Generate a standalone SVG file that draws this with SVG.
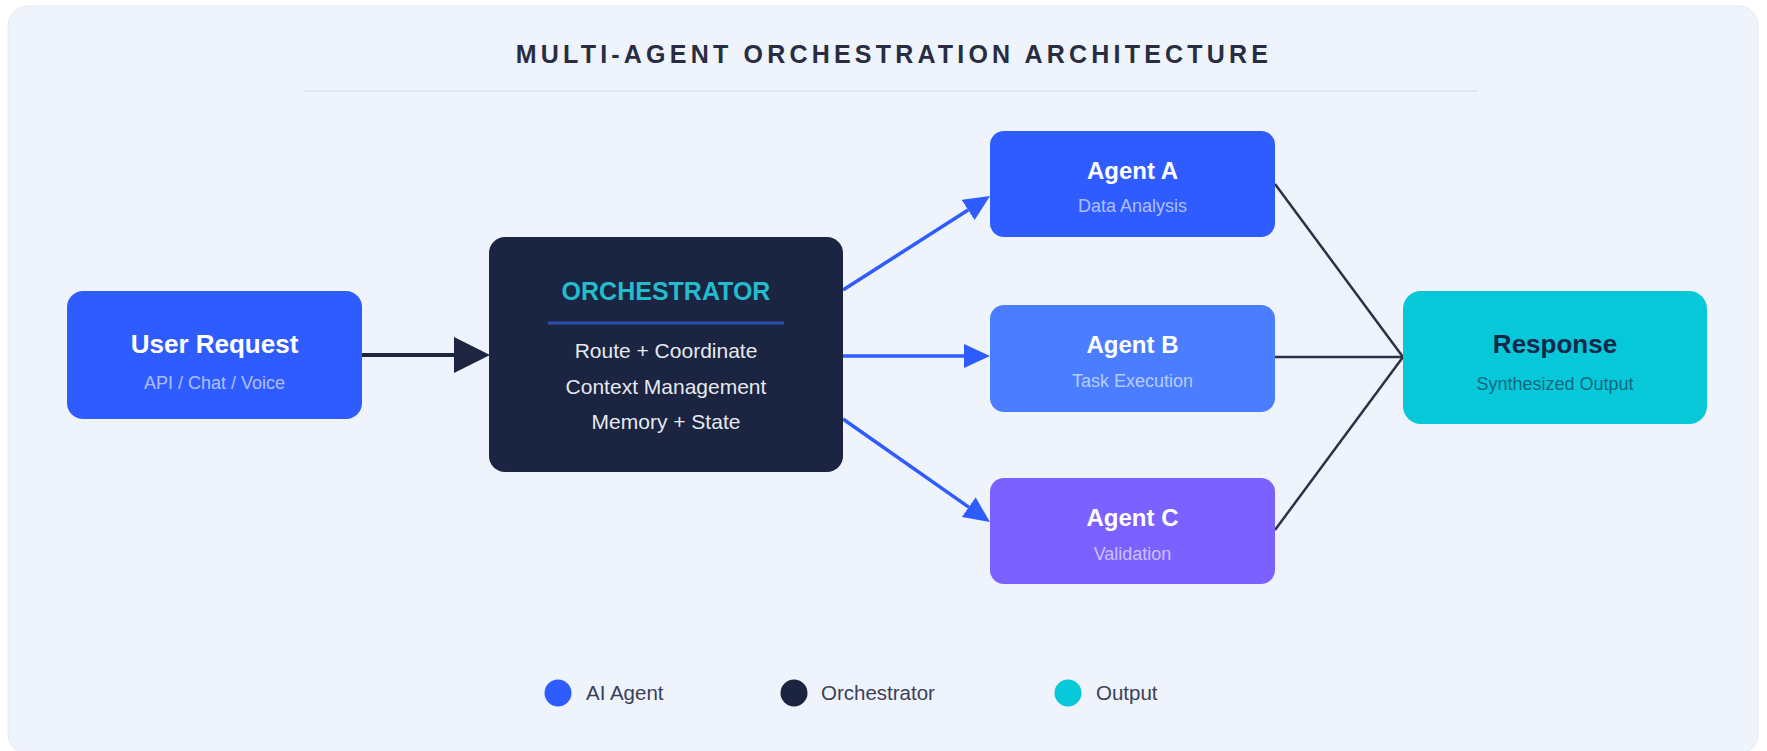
<svg xmlns="http://www.w3.org/2000/svg" width="1767" height="751" viewBox="0 0 1767 751">
  <defs>
    <style>
      text { font-family: "Liberation Sans", Arial, sans-serif; text-anchor: middle; }
      .title { font-size: 25px; font-weight: bold; fill: #282d42; letter-spacing: 4.2px; }
      .ntitle { font-size: 24px; font-weight: bold; fill: #ffffff; }
      .nsub { font-size: 18px; fill: #ffffff; fill-opacity: 0.62; }
      .orch-title { font-size: 25px; font-weight: bold; fill: #22bccc; }
      .orch-line { font-size: 21px; fill: #e6e9f0; }
      .legend { font-size: 20.5px; fill: #3b4058; text-anchor: start; }
      .flow { stroke: #2f5cff; stroke-width: 3.5; fill: none; }
      .merge { stroke: #2b3045; stroke-width: 2.5; fill: none; }
    </style>
    <marker id="arrowDark" markerUnits="userSpaceOnUse" markerWidth="36" markerHeight="36" refX="0" refY="18" orient="auto">
      <path d="M0,0 L36,18 L0,36 z" fill="#1e2540"/>
    </marker>
    <marker id="arrowBlue" markerUnits="userSpaceOnUse" markerWidth="26" markerHeight="24" refX="0" refY="12" orient="auto">
      <path d="M0,0 L26,12 L0,24 z" fill="#2f5cff"/>
    </marker>
  </defs>

  <rect x="0" y="0" width="1767" height="751" fill="#ffffff"/>
  <rect x="8" y="6" width="1750" height="748" rx="20" fill="#eef3fc" stroke="#e6ebf4" stroke-width="1"/>

  <g id="title">
    <text class="title" x="894" y="63">MULTI-AGENT ORCHESTRATION ARCHITECTURE</text>
    <line x1="304" y1="91" x2="1478" y2="91" stroke="#e1e6f0" stroke-width="2"/>
  </g>

  <g id="connectors">
    <line x1="362" y1="355" x2="454" y2="355" stroke="#1e2540" stroke-width="4" marker-end="url(#arrowDark)"/>
    <line class="flow" x1="843" y1="290" x2="968.1" y2="210" marker-end="url(#arrowBlue)"/>
    <line class="flow" x1="843" y1="356" x2="964" y2="356" marker-end="url(#arrowBlue)"/>
    <line class="flow" x1="843" y1="419" x2="968.7" y2="507.1" marker-end="url(#arrowBlue)"/>
    <line class="merge" x1="1275" y1="184" x2="1403" y2="357"/>
    <line class="merge" x1="1275" y1="357" x2="1403" y2="357"/>
    <line class="merge" x1="1275" y1="530" x2="1403" y2="357"/>
  </g>

  <g id="user-request">
    <rect x="67" y="291" width="295" height="128" rx="16" fill="#2f5cff"/>
    <text class="ntitle" x="214.5" y="353" style="font-size:26px">User Request</text>
    <text class="nsub" x="214.5" y="389">API / Chat / Voice</text>
  </g>

  <g id="orchestrator">
    <rect x="489" y="237" width="354" height="235" rx="16" fill="#1b2440"/>
    <text class="orch-title" x="666" y="300">ORCHESTRATOR</text>
    <line x1="548" y1="323" x2="784" y2="323" stroke="#2f4cb0" stroke-width="3"/>
    <text class="orch-line" x="666" y="358">Route + Coordinate</text>
    <text class="orch-line" x="666" y="394">Context Management</text>
    <text class="orch-line" x="666" y="429">Memory + State</text>
  </g>

  <g id="agent-a">
    <rect x="990" y="131" width="285" height="106" rx="14" fill="#2f5cff"/>
    <text class="ntitle" x="1132.5" y="179">Agent A</text>
    <text class="nsub" x="1132.5" y="212">Data Analysis</text>
  </g>

  <g id="agent-b">
    <rect x="990" y="305" width="285" height="107" rx="14" fill="#4a7dff"/>
    <text class="ntitle" x="1132.5" y="353">Agent B</text>
    <text class="nsub" x="1132.5" y="387">Task Execution</text>
  </g>

  <g id="agent-c">
    <rect x="990" y="478" width="285" height="106" rx="14" fill="#7b61ff"/>
    <text class="ntitle" x="1132.5" y="526">Agent C</text>
    <text class="nsub" x="1132.5" y="560">Validation</text>
  </g>

  <g id="response">
    <rect x="1403" y="291" width="304" height="133" rx="18" fill="#06c8d9"/>
    <text class="ntitle" x="1555" y="353" style="fill:#16284a;font-size:26px">Response</text>
    <text class="nsub" x="1555" y="390" style="fill:#1b2440;fill-opacity:0.62">Synthesized Output</text>
  </g>

  <g id="legend">
    <circle cx="558" cy="693" r="13.5" fill="#2f5cff"/>
    <text class="legend" x="586" y="700">AI Agent</text>
    <circle cx="794" cy="693" r="13.5" fill="#1b2440"/>
    <text class="legend" x="821" y="700">Orchestrator</text>
    <circle cx="1068" cy="693" r="13.5" fill="#06c8d9"/>
    <text class="legend" x="1096" y="700">Output</text>
  </g>
</svg>
